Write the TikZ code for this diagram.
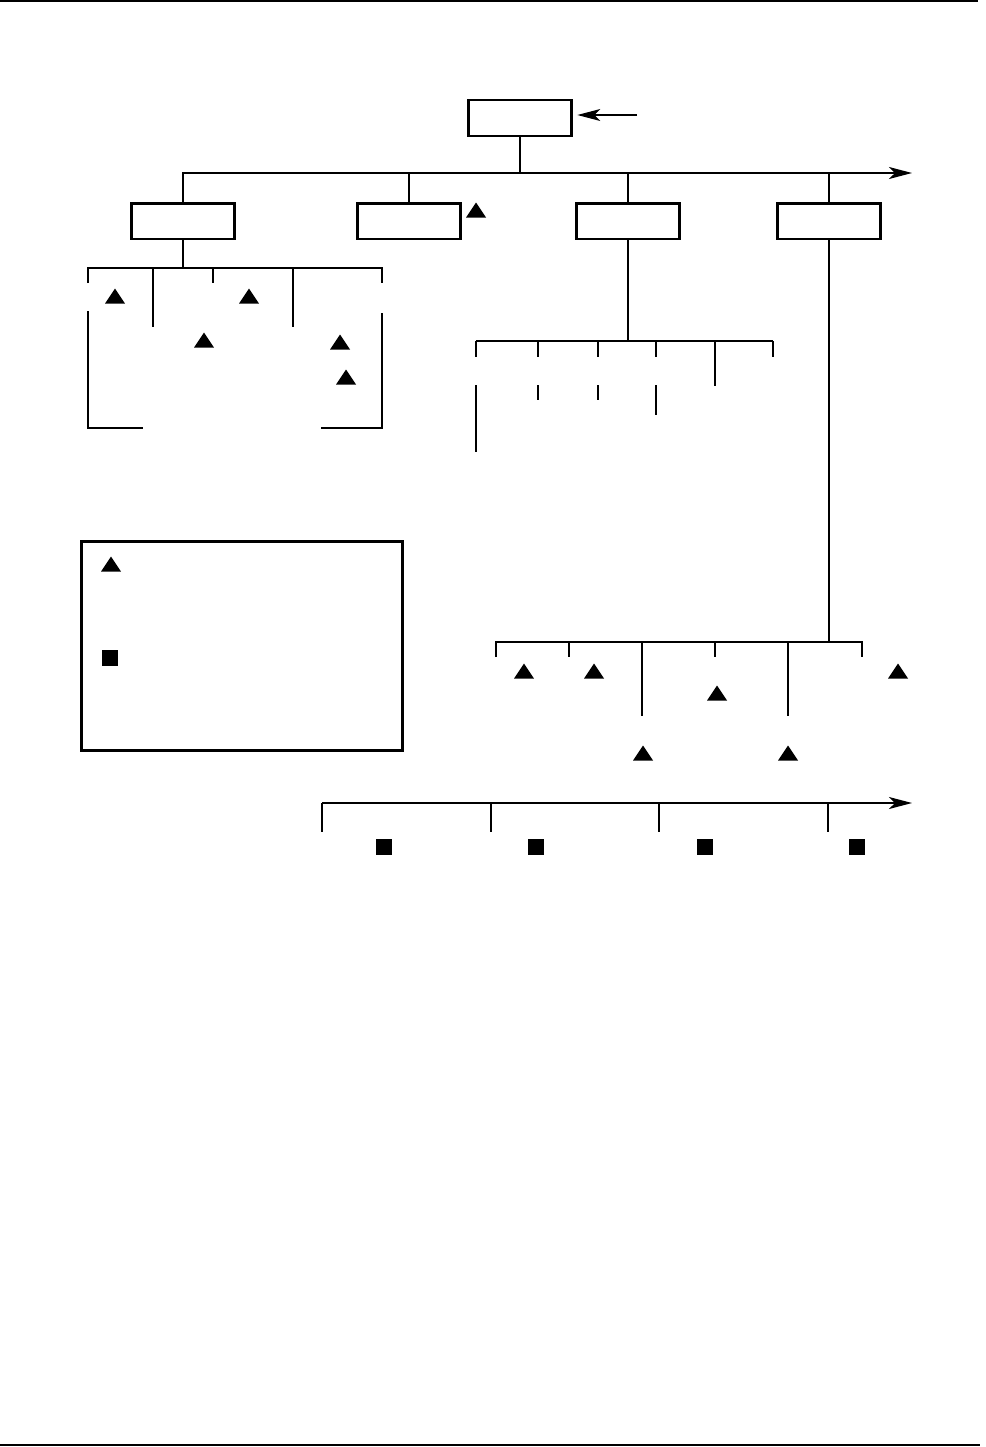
\documentclass[tikz,border=0pt]{standalone}
\usepackage{tikz}
\usetikzlibrary{arrows.meta}

\tikzset{
	unitbox/.style={draw, line width=1.7pt, minimum width=2.06cm, minimum height=0.72cm, inner sep=0pt},
	sqmark/.style={fill=black, minimum size=0.32cm, inner sep=0pt},
	trimark/.pic={\fill (-10,7.5) -- (10,7.5) -- (0,-7.5) -- cycle;},
	bus/.style={line width=0.8pt},
	leg/.style={line width=0.6pt},
}

\begin{document}
\begin{tikzpicture}[x=0.02cm, y=-0.02cm, >={Stealth[length=4.6mm, width=2.4mm, inset=1.2mm]}]
	\useasboundingbox (0,0) rectangle (985,1447);
	\draw[line width=1.1pt] (0,1) -- (978,1);
	\draw[line width=1.1pt] (0,1445) -- (980,1445);
	% top of the tree
	\node[unitbox] (root) at (520,118) {};
	\coordinate (in) at (637,115);
	\draw[leg, ->, shorten >=2.5pt] (in) -- (root.east |- in);
	\coordinate (bus0) at (182,173);
	\coordinate (bus0end) at (912,173);
	\draw[bus, ->] (bus0) -- (bus0end);
	\draw[leg] (root) -- (root |- bus0);
	\foreach \n/\x in {b1/183, b2/409, b3/628, b4/829} {\node[unitbox] (\n) at (\x,221) {}; \draw[leg] (\n) -- (\n |- bus0);}
	\pic (t0) at (476,210) {trimark};
	% first box
	\coordinate (bus1) at (88,268);
	\draw[bus] (88,283) -- (bus1) -- (382,268) -- (382,283);
	\draw[leg] (b1) -- (b1 |- bus1);
	\foreach \x/\y in {153/327, 213/283, 293/327} {\draw[leg] (\x,268) -- (\x,\y);}
	\draw[bus] (88,311) -- (88,428) -- (143,428);
	\draw[bus] (382,313) -- (382,428) -- (321,428);
	\foreach \x/\y in {115/296, 249/296, 204/340, 340/342, 346/377} {\pic at (\x,\y) {trimark};}
	% third box
	\coordinate (bus3) at (476,341);
	\draw[bus] (bus3) -- (773,341);
	\draw[leg] (b3) -- (b3 |- bus3);
	\foreach \x in {476,538,598,656,773} {\draw[leg] (\x,341) -- (\x,357);}
	\draw[leg] (715,341) -- (715,386);
	\foreach \x/\y in {476/452, 538/400, 598/400, 656/415} {\draw[leg] (\x,385) -- (\x,\y);}
	% key
	\node[draw, line width=1.7pt, minimum width=6.44cm, minimum height=4.18cm, inner sep=0pt] (key) at (242,646) {};
	\pic (ktri) at (111,564) {trimark};
	\node[sqmark] (ksq) at (110,658) {};
	% fourth box
	\coordinate (bus4) at (496,642);
	\draw[bus] (b4) -- (b4 |- bus4);
	\draw[bus] (496,657) -- (bus4) -- (862,642) -- (862,657);
	\foreach \x/\y in {569/657, 642/716, 715/657, 788/716} {\draw[leg] (\x,642) -- (\x,\y);}
	\foreach \x/\y in {524/671, 594/671, 717/693, 898/671, 643/753, 788/753} {\pic at (\x,\y) {trimark};}
	% lower axis
	\coordinate (ax0) at (322,803);
	\coordinate (ax1) at (912,803);
	\draw[bus, ->] (ax0) -- (ax1);
	\foreach \x in {322,491,659,828} {\draw[leg] (\x,803) -- (\x,832);}
	\foreach \n/\x in {q1/384, q2/536, q3/705, q4/857} {\node[sqmark] (\n) at (\x,847) {};}
\end{tikzpicture}
\end{document}
